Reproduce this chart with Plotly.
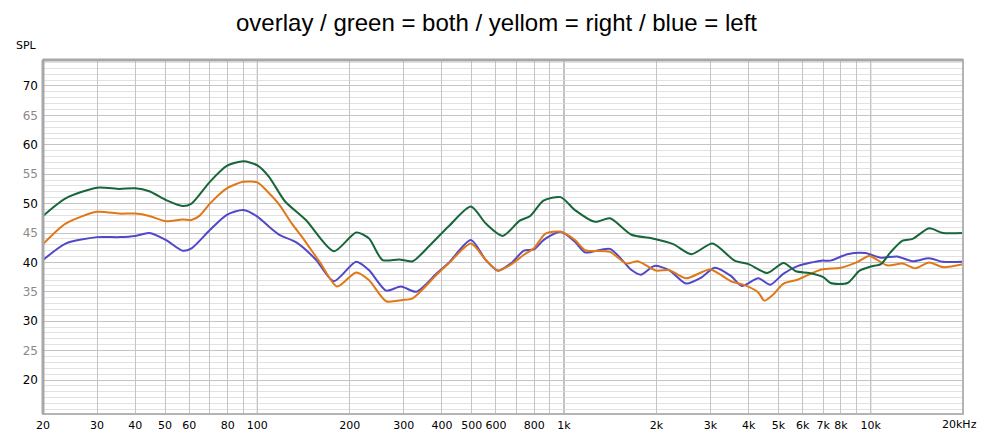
import numpy as np
import plotly.graph_objects as go

# ---- data (Hz, dB SPL) ----
both_freq = [20, 23.7, 30, 35.5, 40, 44.4, 50.4, 57, 61, 70, 79.5, 90, 100, 109, 123, 144,
             177.5, 210, 231, 256, 290, 321, 362, 420, 497, 556, 631, 717, 776, 857, 975,
             1086, 1262, 1412, 1660, 1930, 2270, 2600, 3050, 3600, 4000, 4600, 5200, 5700,
             6300, 7000, 7400, 8400, 9200, 10000, 10800, 11600, 12700, 13700, 15500, 17200, 20000]
both_spl = [47.9, 50.9, 52.7, 52.5, 52.6, 52.1, 50.6, 49.6, 50.0, 53.7, 56.4, 57.2, 56.5, 54.6, 50.4, 47.2,
            41.9, 45.1, 44.1, 40.4, 40.5, 40.2, 42.7, 46.1, 49.5, 46.6, 44.5, 47.1, 47.9, 50.5, 51.1,
            48.9, 46.9, 47.5, 44.7, 44.1, 43.1, 41.4, 43.2, 40.3, 39.7, 38.2, 39.9, 38.5,
            38.2, 37.5, 36.5, 36.5, 38.6, 39.3, 39.7, 41.7, 43.7, 44.0, 45.8, 45.0, 45.0]

right_freq = [20, 23.7, 30, 35.5, 40, 44.4, 50.4, 57, 61, 65, 70, 79.5, 90, 100, 109, 118, 130, 140,
              160, 182, 210, 231, 263, 297, 321, 384, 420, 497, 556, 609, 670, 740, 798, 870, 975,
              1086, 1170, 1412, 1600, 1740, 2000, 2200, 2500, 3000, 3500, 3900, 4300, 4500, 4800,
              5200, 5800, 6900, 8000, 9000, 9900, 11300, 12700, 14000, 15500, 17200, 20000]
right_spl = [43.1, 46.6, 48.6, 48.3, 48.3, 47.9, 47.0, 47.3, 47.2, 48.0, 50.0, 52.6, 53.7, 53.6, 51.8, 49.8, 46.5, 44.3,
             40.0, 35.9, 38.3, 37.0, 33.4, 33.6, 33.9, 37.9, 39.8, 43.2, 40.4, 38.6, 39.6, 41.3, 42.4, 44.9, 45.2,
             43.8, 42.1, 41.8, 39.8, 40.2, 38.6, 38.7, 37.3, 38.8, 36.8, 36.1, 34.9, 33.5, 34.5,
             36.4, 37.1, 38.8, 39.1, 40.0, 41.1, 39.5, 39.8, 39.0, 40.0, 39.2, 39.7]

left_freq = [20, 23.7, 30, 35.5, 40, 44.4, 50.4, 57, 61, 70, 79.5, 90, 100, 109, 118, 134, 155,
             177.5, 210, 231, 263, 294, 330, 384, 420, 497, 556, 609, 670, 740, 798, 857, 975,
             1086, 1170, 1412, 1660, 1780, 1970, 2200, 2500, 2800, 3100, 3500, 3800, 4300, 4700,
             5200, 5800, 6900, 7400, 8400, 9600, 10800, 12200, 13700, 15500, 17200, 20000]
left_spl = [40.4, 43.2, 44.3, 44.3, 44.5, 45.0, 43.8, 42.0, 42.4, 45.5, 48.1, 48.9, 47.8, 46.1, 44.7, 43.4, 40.5,
            36.8, 40.1, 38.7, 35.2, 35.9, 35.0, 38.1, 39.9, 43.8, 40.4, 38.6, 39.8, 42.0, 42.2, 43.8, 45.2,
            43.5, 41.7, 42.3, 38.7, 37.9, 39.4, 38.7, 36.4, 37.4, 39.1, 37.7, 36.0, 37.3, 36.2,
            38.1, 39.4, 40.3, 40.3, 41.4, 41.6, 40.8, 41.0, 40.2, 40.7, 40.1, 40.1]

x_labels = {20: "20", 30: "30", 40: "40", 50: "50", 60: "60", 80: "80", 100: "100",
            200: "200", 300: "300", 400: "400", 500: "500", 600: "600", 800: "800", 1000: "1k",
            2000: "2k", 3000: "3k", 4000: "4k", 5000: "5k", 6000: "6k", 7000: "7k", 8000: "8k",
            10000: "10k"}
last_label = "20kHz"
y_ticks = [20, 25, 30, 35, 40, 45, 50, 55, 60, 65, 70]

# gridline positions: every 1..9 x decade between 20 Hz and 20 kHz
grid_freqs = [m * 10 ** d for d in range(1, 5) for m in range(1, 10) if 20 <= m * 10 ** d <= 20000]
tick_text = [x_labels.get(f, "") for f in grid_freqs]
y_text = [str(v) if v % 10 == 0 else f"<span style='color:#8a8a8a'>{v}</span>" for v in y_ticks]

fig = go.Figure()
series = [
    (left_freq, left_spl, "left", "#5048c8"),
    (right_freq, right_spl, "right", "#e07818"),
    (both_freq, both_spl, "both", "#17663a"),
]
for fx, fy, name, col in series:
    fig.add_trace(go.Scatter(x=fx, y=fy, name=name, mode="lines",
                             line=dict(color=col, width=2, shape="spline", smoothing=0.7)))

# darker decade lines
for f in [100, 1000, 10000]:
    fig.add_shape(type="line", x0=f, x1=f, y0=0, y1=1, xref="x", yref="paper",
                  line=dict(color="#7a7a7a", width=1), layer="below")

# frame with a bit of a bevel look
fig.add_shape(type="rect", x0=0, x1=1, y0=0, y1=1, xref="paper", yref="paper",
              line=dict(color="#b4b4b4", width=2))
fig.add_shape(type="line", x0=0, x1=0, y0=0, y1=1, xref="paper", yref="paper",
              line=dict(color="#a8a8a8", width=3))
fig.add_shape(type="line", x0=0, x1=1, y0=1, y1=1, xref="paper", yref="paper",
              line=dict(color="#a8a8a8", width=3))

fig.add_annotation(text="SPL", xref="paper", yref="paper", x=0, y=1, xanchor="right",
                   yanchor="bottom", xshift=-4, yshift=6, showarrow=False,
                   font=dict(family="DejaVu Sans", size=11, color="#000000"))
# last x label sits right-aligned so it is not cut at the page edge
fig.add_annotation(text=last_label, xref="paper", yref="paper", x=1, y=0, xanchor="right",
                   yanchor="top", xshift=16, yshift=-2, showarrow=False,
                   font=dict(family="DejaVu Sans", size=11, color="#000000"))

# page body adds 8px offset, so the figure is sized to the visible area
fig.update_layout(
    width=977, height=431,
    margin=dict(l=35, r=22, t=52, b=25, autoexpand=False),
    paper_bgcolor="white", plot_bgcolor="white",
    showlegend=False,
    title=dict(text="overlay / green = both / yellom = right / blue = left",
               x=0.5, xanchor="center", y=0.967, yanchor="middle",
               font=dict(family="Liberation Sans, Arial", size=24, color="#000000")),
    font=dict(family="DejaVu Sans", size=12, color="#000000"),
)
fig.update_xaxes(type="log", range=[np.log10(20), np.log10(20000)],
                 tickmode="array", tickvals=grid_freqs, ticktext=tick_text, tickangle=0,
                 tickfont=dict(size=11),
                 showgrid=True, gridcolor="#c4c4c4", gridwidth=1, automargin=False,
                 ticks="", zeroline=False, showline=False, ticklabelstandoff=3)
fig.update_yaxes(range=[14.22, 74.42], tickmode="array", tickvals=y_ticks, ticktext=y_text,
                 showgrid=True, gridcolor="#c4c4c4", gridwidth=1, automargin=False,
                 minor=dict(dtick=1, showgrid=True, gridcolor="#e2e2e2", ticks=""),
                 ticks="", zeroline=False, showline=False, ticklabelstandoff=4)

fig.write_html("out.html")
